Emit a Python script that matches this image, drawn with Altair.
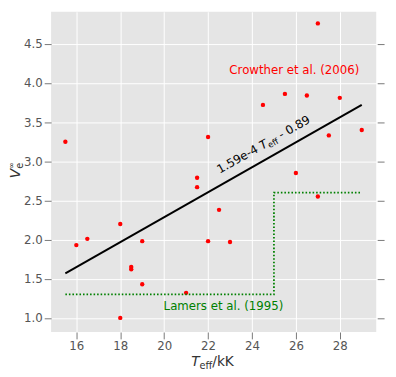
import altair as alt
import pandas as pd

# ---- data ----
teff = [15.5, 16.0, 16.5, 18.0, 18.0, 18.5, 18.5, 19.0, 19.0, 21.0, 21.5, 21.5,
        22.0, 22.0, 22.5, 23.0, 24.5, 25.5, 26.0, 26.5, 27.0, 27.0, 27.5, 28.0, 29.0]
vinf = [3.25, 1.93, 2.01, 2.20, 1.00, 1.65, 1.62, 1.98, 1.43, 1.32, 2.79, 2.67,
        3.31, 1.98, 2.38, 1.97, 3.72, 3.86, 2.85, 3.84, 4.76, 2.55, 3.33, 3.81, 3.40]

fit_x = [15.5, 29.0]
fit_y = [1.57, 3.72]

lamers_x = [15.5, 25.0, 25.0, 29.0]
lamers_y = [1.3, 1.3, 2.6, 2.6]

x_ticks = [16, 18, 20, 22, 24, 26, 28]
y_ticks = [1.0, 1.5, 2.0, 2.5, 3.0, 3.5, 4.0, 4.5]

X_DOMAIN = [14.85, 29.66]
Y_DOMAIN = [0.82, 4.909]

FONT = "DejaVu Sans"
TICK_COLOR = "#777777"
LABEL_COLOR = "#555555"

pts = pd.DataFrame({"teff": teff, "vinf": vinf})
fit = pd.DataFrame({"teff": fit_x, "vinf": fit_y})
lam = pd.DataFrame({"teff": lamers_x, "vinf": lamers_y, "i": list(range(len(lamers_x)))})

xs = alt.Scale(domain=X_DOMAIN, nice=False, zero=False)
ys = alt.Scale(domain=Y_DOMAIN, nice=False, zero=False)

x_axis = alt.Axis(values=x_ticks, title=None, grid=True, gridColor="white", gridWidth=1,
                  domain=False, tickColor=TICK_COLOR, tickSize=7, labelFontSize=12,
                  labelColor=LABEL_COLOR, labelFont=FONT, labelPadding=2)
y_axis_left = alt.Axis(values=y_ticks, format=".1f", title=None, grid=True, gridColor="white",
                       gridWidth=1, domain=False, tickColor=TICK_COLOR, tickSize=7,
                       labelFontSize=12, labelColor=LABEL_COLOR, labelFont=FONT, labelPadding=2)
y_axis_right = alt.Axis(values=y_ticks, orient="right", title=None, grid=False, labels=False,
                        domain=False, tickColor=TICK_COLOR, tickSize=7, offset=1)

X = alt.X("teff:Q", scale=xs, axis=x_axis)
Yn = alt.Y("vinf:Q", scale=ys, axis=None)

points = alt.Chart(pts).mark_circle(color="red", size=20, opacity=1).encode(
    x=X, y=alt.Y("vinf:Q", scale=ys, axis=y_axis_left))

right_ticks = alt.Chart(pts).mark_circle(opacity=0).encode(
    x=X, y=alt.Y("vinf:Q", scale=ys, axis=y_axis_right))

fit_line = alt.Chart(fit).mark_line(color="black", strokeWidth=2).encode(x=X, y=Yn)

lamers_line = alt.Chart(lam).mark_line(color="green", strokeWidth=1.8,
                                       strokeDash=[1.6, 2.0]).encode(
    x=X, y=Yn, order="i:Q")

def label(text, x, y, color, **kw):
    df = pd.DataFrame({"teff": [x], "vinf": [y], "t": [text]})
    return alt.Chart(df).mark_text(color=color, font=FONT, **kw).encode(
        x=X, y=Yn, text="t:N")

crowther = label("Crowther et al. (2006)", 25.93, 4.11, "red", fontSize=12,
                 align="center", baseline="alphabetic")
lamers = label("Lamers et al. (1995)", 22.70, 1.098, "green", fontSize=12,
               align="center", baseline="alphabetic")

# rotated fit label, built from pieces along the rotated baseline
ANG = 330.46
LX, LY = 22.535, 2.84
fit_lab = [
    label("1.59e-4", LX, LY, "black", fontSize=12, angle=ANG, align="left", baseline="alphabetic"),
    label("T", LX, LY, "black", fontSize=12, fontStyle="italic", angle=ANG, align="left",
          baseline="alphabetic", dx=49.9),
    label("eff", LX, LY, "black", fontSize=8.5, angle=ANG, align="left",
          baseline="alphabetic", dx=57.2, dy=2.5),
    label("- 0.89", LX, LY, "black", fontSize=12, angle=ANG, align="left",
          baseline="alphabetic", dx=72.2),
]

def ptext(text, px, py, **kw):
    df = pd.DataFrame({"t": [text]})
    return alt.Chart(df).mark_text(font=FONT, color="#333333", align="left",
                                   baseline="alphabetic", **kw).encode(
        x=alt.value(px), y=alt.value(py), text="t:N")

# x-axis title: T_eff/kK
XT_X, XT_Y = 143.0, 361.3
x_title = [
    ptext("T", XT_X, XT_Y, fontSize=14, fontStyle="italic"),
    ptext("eff", XT_X, XT_Y, fontSize=10, dx=8.6, dy=3.4),
    ptext("/kK", XT_X, XT_Y, fontSize=14, dx=21.6),
]

# y-axis title: V_e^inf (rotated)
YT_X, YT_Y = -31.5, 170.0
y_title = [
    ptext("V", YT_X, YT_Y, fontSize=14, fontStyle="italic", angle=270),
    ptext("e", YT_X, YT_Y, fontSize=10, angle=270, dx=9.8, dy=3.0),
    ptext("∞", YT_X, YT_Y, fontSize=8, angle=270, dx=9.8, dy=-6.5),
]

chart = alt.layer(
    points, right_ticks, fit_line, lamers_line, crowther, lamers, *fit_lab, *x_title, *y_title
).resolve_axis(y="independent").properties(
    width=332, height=327,
    autosize=alt.AutoSizeParams(type="none"),
    padding={"left": 44, "top": 0, "right": 12, "bottom": 38},
).configure_view(fill="#E5E5E5", strokeWidth=0)

chart.save("out.html", embed_options={"renderer": "svg", "actions": False})
